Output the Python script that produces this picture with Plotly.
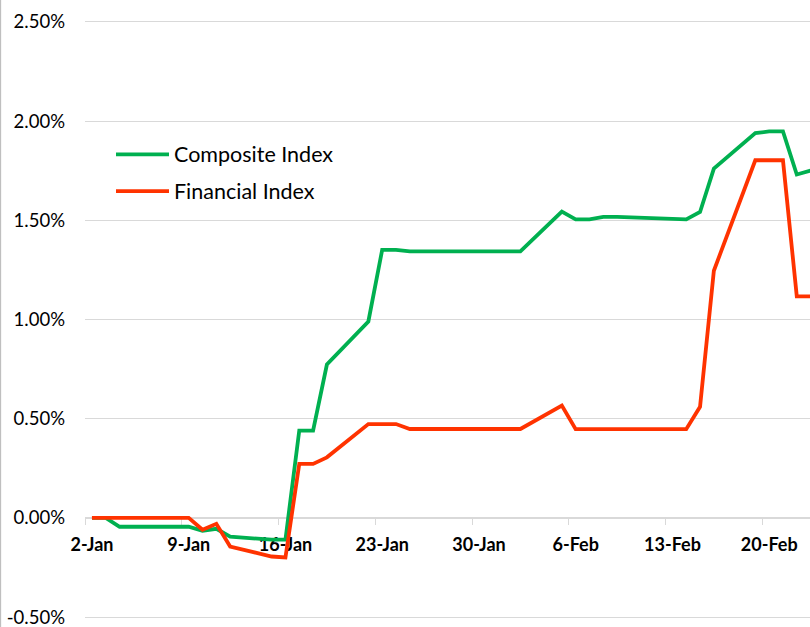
import pandas as pd
import plotly.graph_objects as go

# ---- data (values in %) ----
dates = [
    "2024-01-02", "2024-01-03", "2024-01-04", "2024-01-05", "2024-01-08",
    "2024-01-09", "2024-01-10", "2024-01-11", "2024-01-12", "2024-01-15",
    "2024-01-16", "2024-01-17", "2024-01-18", "2024-01-19", "2024-01-22",
    "2024-01-23", "2024-01-24", "2024-01-25", "2024-01-26", "2024-01-29",
    "2024-01-30", "2024-01-31", "2024-02-01", "2024-02-02", "2024-02-05",
    "2024-02-06", "2024-02-07", "2024-02-08", "2024-02-09", "2024-02-12",
    "2024-02-13", "2024-02-14", "2024-02-15", "2024-02-16", "2024-02-19",
    "2024-02-20", "2024-02-21", "2024-02-22", "2024-02-23",
]
composite = [
    0.000, 0.000, -0.045, -0.045, -0.045,
    -0.045, -0.065, -0.055, -0.095, -0.110,
    -0.110, 0.440, 0.440, 0.773, 0.990,
    1.351, 1.351, 1.343, 1.343, 1.343,
    1.343, 1.343, 1.343, 1.343, 1.544,
    1.505, 1.505, 1.517, 1.517, 1.508,
    1.505, 1.505, 1.542, 1.761, 1.940,
    1.948, 1.948, 1.731, 1.751,
]
financial = [
    0.000, 0.000, 0.000, 0.000, 0.000,
    0.000, -0.060, -0.030, -0.145, -0.195,
    -0.200, 0.272, 0.272, 0.305, 0.473,
    0.473, 0.473, 0.448, 0.448, 0.448,
    0.448, 0.448, 0.448, 0.448, 0.566,
    0.447, 0.447, 0.447, 0.447, 0.447,
    0.447, 0.447, 0.560, 1.246, 1.803,
    1.803, 1.803, 1.117, 1.117,
]
series_names = ["Composite Index", "Financial Index"]
series_colors = ["#00B050", "#FF3300"]

tick_dates = ["2024-01-02", "2024-01-09", "2024-01-16", "2024-01-23",
              "2024-01-30", "2024-02-06", "2024-02-13", "2024-02-20"]
tick_labels = ["2-Jan", "9-Jan", "16-Jan", "23-Jan",
               "30-Jan", "6-Feb", "13-Feb", "20-Feb"]
y_ticks = [-0.5, 0.0, 0.5, 1.0, 1.5, 2.0, 2.5]
y_tick_labels = ["-0.50%", "0.00%", "0.50%", "1.00%", "1.50%", "2.00%", "2.50%"]

# ---- layout geometry ----
W, H = 810, 627
ML, MR, MT, MB = 85, 0, 20, 5
PW, PH = W - ML - MR, H - MT - MB
FONT = "Lato, 'Open Sans', sans-serif"
GRID = "#d9d9d9"
EPS = 0.01  # keep edge gridlines inside the range
LW = 3.8

def px_x(px):
    return (px - ML) / PW

def px_y(py):
    return (H - MB - py) / PH

# tick marks sit half a day before each labelled date (between-dates style)
tick_vals = [(pd.Timestamp(d) - pd.Timedelta(hours=12)).strftime("%Y-%m-%d %H:%M") for d in tick_dates]
x_start = pd.Timestamp(dates[0]) - pd.Timedelta(hours=12, minutes=5)
x_end = x_start + pd.Timedelta(days=PW / 13.82)

fig = go.Figure()
for name, vals, col in zip(series_names, [composite, financial], series_colors):
    fig.add_trace(go.Scatter(
        x=dates, y=vals, mode="lines", name=name,
        line=dict(color=col, width=LW), showlegend=False,
    ))

fig.update_layout(
    width=W, height=H,
    margin=dict(l=ML, r=MR, t=MT, b=MB),
    paper_bgcolor="white", plot_bgcolor="white",
    font=dict(family=FONT, size=18, color="#000000"),
    xaxis=dict(
        type="date",
        range=[x_start.strftime("%Y-%m-%d %H:%M"), x_end.strftime("%Y-%m-%d %H:%M")],
        tickmode="array", tickvals=tick_vals, ticktext=tick_labels,
        ticklabelshift=7, ticklabelstandoff=4,
        tickfont=dict(family=FONT, size=18, color="#000000", weight="bold"),
        ticks="outside", ticklen=6, tickwidth=1.3, tickcolor=GRID,
        showgrid=False, zeroline=False,
        showline=True, linecolor=GRID, linewidth=1.3,
        anchor="free", position=(0.5 + EPS) / (3.0 + 2 * EPS),
        layer="below traces",
    ),
    yaxis=dict(
        range=[-0.5 - EPS, 2.5 + EPS],
        tickmode="array", tickvals=y_ticks, ticktext=y_tick_labels,
        tickfont=dict(family=FONT, size=18.5, color="#000000"),
        ticks="", ticklabelstandoff=19, ticklabeloverflow="allow",
        showgrid=True, gridcolor=GRID, gridwidth=1.3,
        zeroline=False, showline=False,
        layer="below traces",
    ),
)

# left chart-area border
fig.add_shape(type="line", xref="paper", yref="paper",
              x0=px_x(0.5), x1=px_x(0.5), y0=px_y(H + 5), y1=px_y(-5),
              line=dict(color="#bfbfbf", width=1.3))

# legend (drawn manually)
for i, (name, col) in enumerate(zip(series_names, series_colors)):
    yy = 155 + 37 * i
    fig.add_shape(type="line", xref="paper", yref="paper",
                  x0=px_x(116), x1=px_x(169), y0=px_y(yy), y1=px_y(yy),
                  line=dict(color=col, width=LW))
    fig.add_annotation(xref="paper", yref="paper", x=px_x(172), y=px_y(yy),
                       text=name, showarrow=False, xanchor="left", yanchor="middle",
                       font=dict(family=FONT, size=21.5, color="#000000"))

fig.write_html("out.html", config={"displayModeBar": False},
               post_script="document.body.style.margin='0';")
